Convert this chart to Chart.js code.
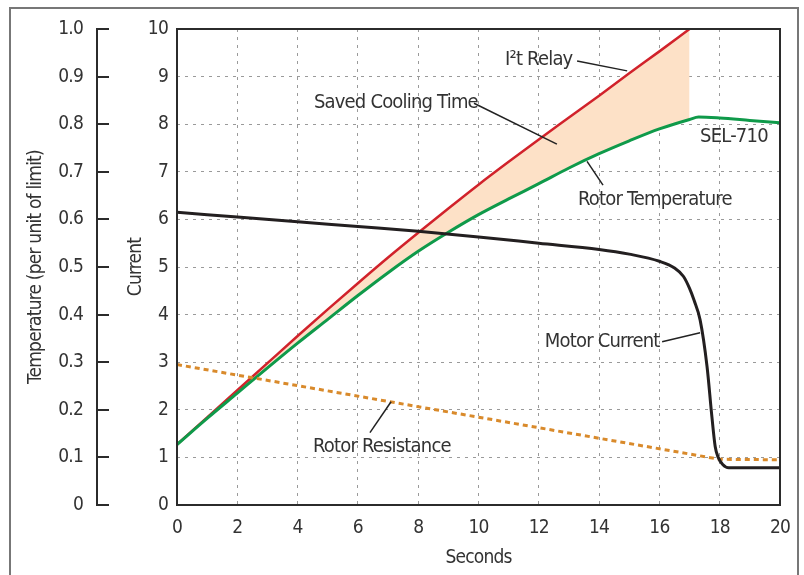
<!DOCTYPE html>
<html>
<head>
<meta charset="utf-8">
<script src="https://cdn.jsdelivr.net/npm/chart.js@4.4.0/dist/chart.umd.min.js"></script>
<style>
  html, body { margin: 0; padding: 0; background: #fff; }
  #wrap { width: 804px; height: 575px; }
</style>
</head>
<body>
<div id="wrap"><canvas id="motorChart" width="804" height="575"></canvas></div>
<script>
const FONT = "'Liberation Sans Narrow', 'DejaVu Sans Condensed', 'Liberation Sans', sans-serif";
const TEXT_COLOR = "#333333";

// values (x in seconds, y on the "Current" scale)
const relaySeconds = [0, 1, 2, 3, 4, 5, 6, 7, 8, 9, 10, 11, 12, 13, 14, 15, 16, 17];
const relayValues = [1.27, 1.84, 2.41, 2.98, 3.55, 4.11, 4.66, 5.2, 5.72, 6.23, 6.73, 7.21, 7.68, 8.14, 8.6, 9.07, 9.53, 10];

const rotorTempSeconds = [0, 1, 2, 3, 4, 5, 6, 7, 8, 9, 10, 11, 12, 13, 14, 15, 16, 17, 17.3, 18, 19, 20];
const rotorTempValues = [1.27, 1.82, 2.35, 2.88, 3.4, 3.9, 4.4, 4.88, 5.33, 5.73, 6.1, 6.43, 6.75, 7.08, 7.38, 7.65, 7.9, 8.1, 8.15, 8.13, 8.08, 8.03];

const motorSeconds = [0, 2, 4, 6, 8, 10, 12, 14, 15, 16, 16.5, 16.8, 17, 17.15, 17.35, 17.58, 17.74, 17.85, 17.95, 18.1, 18.3, 20];
const motorValues = [6.15, 6.05, 5.95, 5.85, 5.75, 5.63, 5.5, 5.37, 5.27, 5.12, 4.98, 4.8, 4.55, 4.3, 3.89, 2.91, 1.86, 1.23, 1.0, 0.85, 0.78, 0.78];

const resistanceSeconds = [0, 18, 20];
const resistanceValues = [2.95, 0.96, 0.95];

const secondTicks = [0, 2, 4, 6, 8, 10, 12, 14, 16, 18, 20];
const currentTicks = [0, 1, 2, 3, 4, 5, 6, 7, 8, 9, 10];
const temperatureTicks = [0, 0.1, 0.2, 0.3, 0.4, 0.5, 0.6, 0.7, 0.8, 0.9, 1.0];

// callouts, placed in data units
const chartNotes = [
  { text: "I\u00B2t Relay", x: 10.88, y: 9.35, line: [13.27, 9.33, 14.93, 9.12] },
  { text: "Saved Cooling Time", x: 4.54, y: 8.46, line: [9.85, 8.44, 12.6, 7.58] },
  { text: "SEL-710", x: 17.35, y: 7.73 },
  { text: "Rotor Temperature", x: 13.3, y: 6.42, line: [13.6, 7.22, 14.13, 6.72] },
  { text: "Motor Current", x: 12.2, y: 3.43, line: [16.09, 3.43, 17.35, 3.62] },
  { text: "Rotor Resistance", x: 4.51, y: 1.22, line: [6.4, 1.52, 7.1, 2.17] },
];

const toPoints = (xs, ys) => xs.map((x, i) => ({ x: x, y: ys[i] }));

const framePlugin = {
  id: "frame",
  beforeDraw(chart) {
    const ctx = chart.ctx;
    // the original type is very condensed, tighten everything a bit
    ctx.letterSpacing = "-0.8px";
    ctx.save();
    ctx.strokeStyle = "#777";
    ctx.lineWidth = 2;
    ctx.strokeRect(10, 8, 788, 600);
    ctx.restore();
  },
  afterDatasetsDraw(chart) {
    const ctx = chart.ctx;
    const area = chart.chartArea;
    ctx.save();
    ctx.strokeStyle = "#2b2b2b";
    ctx.lineWidth = 2;
    ctx.strokeRect(area.left, area.top, area.right - area.left, area.bottom - area.top);

    // temperature axis spine sits on the outer end of its ticks
    const t = chart.scales.temp;
    const spineX = t.right - 12;
    ctx.beginPath();
    ctx.moveTo(spineX, t.getPixelForValue(1) - 1);
    ctx.lineTo(spineX, t.getPixelForValue(0) + 1);
    ctx.stroke();

    // callouts
    const xs = chart.scales.x;
    const ys = chart.scales.y;
    ctx.font = "20px " + FONT;
    ctx.fillStyle = TEXT_COLOR;
    ctx.textAlign = "left";
    ctx.textBaseline = "middle";
    ctx.strokeStyle = "#222";
    ctx.lineWidth = 1.5;
    chartNotes.forEach((n) => {
      ctx.fillText(n.text, xs.getPixelForValue(n.x), ys.getPixelForValue(n.y));
      if (n.line) {
        ctx.beginPath();
        ctx.moveTo(xs.getPixelForValue(n.line[0]), ys.getPixelForValue(n.line[1]));
        ctx.lineTo(xs.getPixelForValue(n.line[2]), ys.getPixelForValue(n.line[3]));
        ctx.stroke();
      }
    });
    ctx.restore();
  },
};

const ctx = document.getElementById("motorChart").getContext("2d");
const motorChart = new Chart(ctx, {
  type: "line",
  data: {
    datasets: [
      {
        label: "Motor Current",
        data: toPoints(motorSeconds, motorValues),
        borderColor: "#231f20",
        borderWidth: 3,
        cubicInterpolationMode: "monotone",
        pointRadius: 0,
        fill: false,
      },
      {
        label: "Rotor Resistance",
        data: toPoints(resistanceSeconds, resistanceValues),
        borderColor: "#d98a2b",
        borderWidth: 3,
        borderDash: [5, 4],
        pointRadius: 0,
        fill: false,
      },
      {
        label: "Rotor Temperature",
        data: toPoints(rotorTempSeconds, rotorTempValues),
        borderColor: "#0f9a4a",
        borderWidth: 3,
        cubicInterpolationMode: "monotone",
        pointRadius: 0,
        fill: false,
      },
      {
        label: "I\u00B2t Relay",
        data: toPoints(relaySeconds, relayValues),
        borderColor: "#d1222b",
        borderWidth: 2.5,
        cubicInterpolationMode: "monotone",
        pointRadius: 0,
        fill: { target: 2 },
        backgroundColor: "#fde1c7",
      },
    ],
  },
  options: {
    responsive: false,
    animation: false,
    layout: { padding: { left: 10, top: 29, right: 24, bottom: 0 } },
    plugins: {
      legend: { display: false },
      tooltip: { enabled: false },
      filler: { drawTime: "beforeDatasetsDraw" },
    },
    scales: {
      x: {
        type: "linear",
        min: 0,
        max: 20,
        afterBuildTicks: (s) => { s.ticks = secondTicks.map((v) => ({ value: v })); },
        afterFit: (s) => { s.height = 70; },
        ticks: { color: TEXT_COLOR, font: { family: FONT, size: 19 }, padding: 12, maxRotation: 0, autoSkip: false },
        grid: { color: "#9a9a9a", lineWidth: 1, drawTicks: false },
        border: { display: false, dash: [3, 5] },
        title: { display: true, text: "Seconds", color: TEXT_COLOR, font: { family: FONT, size: 19 }, padding: { top: 0, bottom: 6 } },
      },
      y: {
        type: "linear",
        position: "left",
        weight: 0,
        min: 0,
        max: 10,
        afterBuildTicks: (s) => { s.ticks = currentTicks.map((v) => ({ value: v })); },
        afterFit: (s) => { s.width = 68; },
        ticks: { color: TEXT_COLOR, font: { family: FONT, size: 19 }, padding: 9, autoSkip: false },
        grid: { color: "#9a9a9a", lineWidth: 1, drawTicks: false },
        border: { display: false, dash: [3, 5] },
        title: { display: true, text: "Current", color: TEXT_COLOR, font: { family: FONT, size: 19 }, padding: { top: 16, bottom: 0 } },
      },
      temp: {
        type: "linear",
        position: "left",
        weight: 10,
        min: 0,
        max: 1,
        afterBuildTicks: (s) => { s.ticks = temperatureTicks.map((v) => ({ value: v })); },
        afterFit: (s) => { s.width = 99; },
        ticks: {
          color: TEXT_COLOR,
          font: { family: FONT, size: 19 },
          padding: 14,
          autoSkip: false,
          callback: (v) => (v === 0 ? "0" : v.toFixed(1)),
        },
        grid: { drawOnChartArea: false, drawTicks: true, tickLength: 12, color: "#2b2b2b", lineWidth: 2 },
        border: { display: false },
        title: { display: true, text: "Temperature (per unit of limit)", color: TEXT_COLOR, font: { family: FONT, size: 19 }, padding: { top: 15, bottom: 0 } },
      },
    },
  },
  plugins: [framePlugin],
});
</script>
</body>
</html>
